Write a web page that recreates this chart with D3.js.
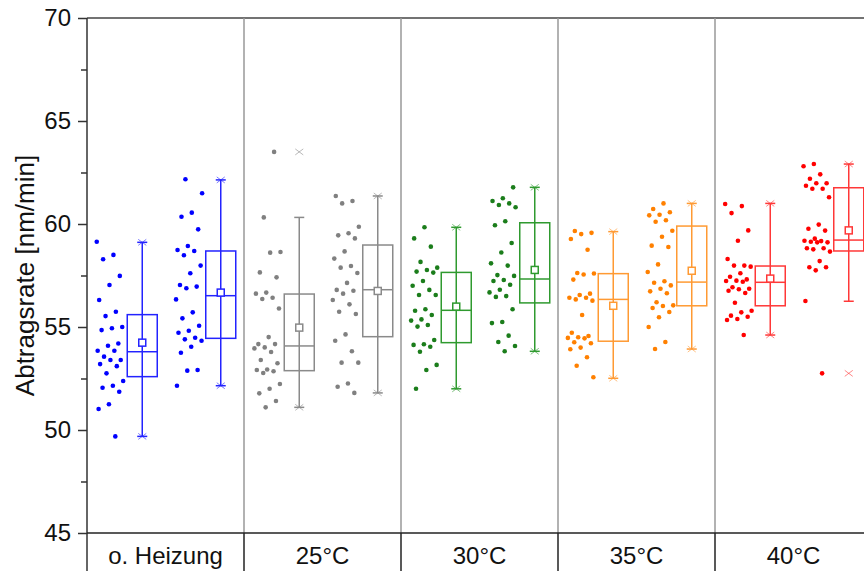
<!DOCTYPE html>
<html>
<head>
<meta charset="utf-8">
<script src="https://cdn.jsdelivr.net/npm/d3@7"></script>
<style>
  body { margin: 0; background: #fff; }
  svg { display: block; font-family: "Liberation Sans", Arial, sans-serif; }
</style>
</head>
<body>
<div id="chart"></div>
<script>
// 1. Data
const categories = ["o. Heizung", "25°C", "30°C", "35°C", "40°C"]
const subSeries = ["A", "B"]

// raw points per category, two sub series each
const ptsOHeizung = [
  [59.14, 58.50, 58.29, 57.48, 57.04, 56.31, 55.74, 55.53, 55.0, 54.94, 54.85, 54.2, 54.09, 53.85,
   53.85, 53.56, 53.4, 53.4, 53.2, 53.1, 52.75, 52.38, 52.15, 52.05, 51.86, 51.25, 51.02, 49.69],
  [62.17, 61.49, 60.55, 60.35, 59.74, 58.93, 58.74, 58.69, 58.48, 57.98, 57.61, 57.04, 56.96, 56.88,
   56.34, 55.71, 55.42, 55.06, 54.82, 54.72, 54.48, 54.4, 54.33, 54.04, 53.75, 52.91, 52.88, 52.15]
]
const pts25 = [
  [63.5, 60.32, 58.64, 58.61, 57.65, 57.41, 56.67, 56.62, 56.42, 56.36, 55.9, 54.51, 54.17, 54.17,
   54.01, 53.96, 53.79, 53.4, 53.24, 52.94, 52.91, 52.85, 52.77, 52.23, 52.0, 51.78, 51.41, 51.1],
  [61.36, 61.12, 61.0, 59.87, 59.55, 59.45, 59.3, 58.67, 58.32, 57.96, 57.88, 57.62, 57.14, 56.8,
   56.76, 56.62, 56.31, 56.1, 55.74, 55.63, 54.64, 54.33, 53.82, 53.27, 53.27, 52.26, 52.1, 51.8]
]
const pts30 = [
  [59.84, 59.3, 58.9, 58.16, 57.88, 57.77, 57.69, 57.64, 57.23, 57.0, 56.8, 56.55, 56.55, 55.86,
   55.79, 55.58, 55.37, 55.31, 55.1, 55.02, 54.37, 54.16, 54.13, 54.04, 53.8, 53.16, 52.91, 52.0],
  [61.78, 61.25, 61.12, 61.0, 60.92, 60.81, 60.13, 59.94, 59.08, 58.62, 58.09, 57.98, 57.52, 57.48,
   57.28, 57.23, 57.05, 56.81, 56.68, 56.5, 56.46, 55.86, 55.24, 55.19, 54.58, 54.27, 54.08, 53.82]
]
const pts35 = [
  [59.66, 59.57, 59.51, 59.27, 58.75, 57.62, 57.6, 57.55, 57.3, 56.62, 56.55, 56.42, 56.42, 56.34,
   56.28, 55.58, 54.72, 54.56, 54.5, 54.47, 54.45, 54.26, 54.21, 54.0, 53.92, 53.53, 53.12, 52.56],
  [61.0, 60.73, 60.57, 60.45, 60.42, 60.18, 60.11, 59.67, 59.38, 58.95, 58.88, 58.04, 57.67, 57.22,
   57.15, 57.02, 56.86, 56.73, 56.64, 56.2, 56.05, 56.02, 55.92, 55.73, 55.47, 55.0, 54.27, 53.93]
]
const pts40 = [
  [60.97, 60.87, 60.53, 59.69, 59.19, 58.3, 57.98, 57.98, 57.93, 57.61, 57.44, 57.31, 57.25, 57.23,
   57.2, 56.93, 56.86, 56.83, 56.76, 56.65, 56.18, 55.79, 55.71, 55.55, 55.5, 55.39, 55.34, 54.61],
  [62.91, 62.8, 62.41, 62.2, 61.98, 61.98, 61.86, 61.71, 61.71, 61.3, 59.97, 59.77, 59.68, 59.29,
   59.19, 59.17, 59.14, 59.11, 59.11, 58.82, 58.82, 58.77, 58.66, 58.2, 57.9, 57.9, 57.75, 56.26, 52.75]
]
const allPoints = [ptsOHeizung, pts25, pts30, pts35, pts40]

// box statistics per category [A, B]
const boxQ1 = [[52.59, 54.45], [52.88, 54.53], [54.24, 56.17], [54.31, 56.03], [56.03, 58.69]]
const boxMedian = [[53.8, 56.52], [54.08, 56.81], [55.81, 57.33], [56.34, 57.18], [57.17, 59.22]]
const boxQ3 = [[55.6, 58.69], [56.6, 58.98], [57.65, 60.06], [57.59, 59.9], [57.96, 61.76]]
const boxMean = [[54.24, 56.67], [54.97, 56.75], [55.99, 57.77], [56.03, 57.73], [57.35, 59.69]]
const whiskerLow = [[49.69, 52.15], [51.1, 51.8], [52.0, 53.82], [52.51, 53.93], [54.61, 56.25]]
const whiskerHigh = [[59.11, 62.14], [60.32, 61.36], [59.84, 61.78], [59.63, 61.0], [61.0, 62.91]]
const minMark = [[49.69, 52.15], [51.1, 51.8], [52.0, 53.82], [52.51, 53.93], [54.61, 52.75]]
const maxMark = [[59.11, 62.14], [63.5, 61.36], [59.84, 61.78], [59.63, 61.0], [61.0, 62.91]]

const yTicks = [45, 50, 55, 60, 65, 70]

// styles
const pointColors = ["#0000ff", "#808080", "#1b7d1b", "#ff8000", "#ff0000"]
const boxColors = ["#2323ff", "#8a8a8a", "#2f9a2f", "#ff9a33", "#ff3838"]

// 2. Dimensions
const dimensions = {
  width: 864,
  height: 571,
  margin: { top: 18, left: 87, bottom: 38 },
}
const groupWidth = 157
const plotBottom = dimensions.height - dimensions.margin.bottom

// 3. Canvas
const svg = d3.select("#chart").append("svg")
  .attr("width", dimensions.width)
  .attr("height", dimensions.height)

// 4. Scales
const yScale = d3.scaleLinear()
  .domain([45, 70])
  .range([plotBottom, dimensions.margin.top])

const xScale = d3.scaleBand()
  .domain(categories)
  .range([dimensions.margin.left, dimensions.margin.left + groupWidth * categories.length])

const subScale = d3.scaleBand()
  .domain(subSeries)
  .range([0, xScale.bandwidth()])

const cloudOffset = -16
const boxOffset = 16
const boxW = 30
const capW = 10

// deterministic jitter within the cloud (golden ratio sequence)
const jitter = (i, seed) => {
  const f = (i * 0.618034 + seed * 0.377) % 1
  return (f - 0.5) * 27
}

// 5. Peripherals (frame, separators)
svg.append("line")
  .attr("x1", dimensions.margin.left).attr("x2", dimensions.width)
  .attr("y1", yScale(70)).attr("y2", yScale(70))
  .attr("stroke", "#444").attr("stroke-width", 1.5)

categories.slice(1).forEach(c => {
  const x = xScale(c)
  svg.append("line")
    .attr("x1", x).attr("x2", x)
    .attr("y1", yScale(70)).attr("y2", plotBottom)
    .attr("stroke", "#999").attr("stroke-width", 1.5)
  svg.append("line")
    .attr("x1", x).attr("x2", x)
    .attr("y1", plotBottom).attr("y2", dimensions.height)
    .attr("stroke", "#222").attr("stroke-width", 1.5)
})

// 6. Draw data
categories.forEach((cat, ci) => {
  const g = svg.append("g")
  const pc = pointColors[ci]
  const bc = boxColors[ci]
  subSeries.forEach((s, si) => {
    const center = xScale(cat) + subScale(s) + subScale.bandwidth() / 2
    const cx = center + cloudOffset
    const bx = center + boxOffset

    // points
    g.selectAll(null)
      .data(allPoints[ci][si])
      .enter().append("circle")
        .attr("cx", (d, i) => cx + jitter(i, ci * 2 + si))
        .attr("cy", d => yScale(d))
        .attr("r", 2.3)
        .attr("fill", pc)

    // whisker
    g.append("line")
      .attr("x1", bx).attr("x2", bx)
      .attr("y1", yScale(whiskerLow[ci][si])).attr("y2", yScale(whiskerHigh[ci][si]))
      .attr("stroke", bc).attr("stroke-width", 1.5)
    ;[whiskerLow[ci][si], whiskerHigh[ci][si]].forEach(v => {
      g.append("line")
        .attr("x1", bx - capW / 2).attr("x2", bx + capW / 2)
        .attr("y1", yScale(v)).attr("y2", yScale(v))
        .attr("stroke", bc).attr("stroke-width", 1.5)
    })

    // box
    g.append("rect")
      .attr("x", bx - boxW / 2)
      .attr("y", yScale(boxQ3[ci][si]))
      .attr("width", boxW)
      .attr("height", yScale(boxQ1[ci][si]) - yScale(boxQ3[ci][si]))
      .attr("fill", "none").attr("stroke", bc).attr("stroke-width", 1.5)
    g.append("line")
      .attr("x1", bx - boxW / 2).attr("x2", bx + boxW / 2)
      .attr("y1", yScale(boxMedian[ci][si])).attr("y2", yScale(boxMedian[ci][si]))
      .attr("stroke", bc).attr("stroke-width", 1.5)

    // mean
    g.append("rect")
      .attr("x", bx - 3.5).attr("y", yScale(boxMean[ci][si]) - 3.5)
      .attr("width", 7).attr("height", 7)
      .attr("fill", "#fff").attr("stroke", bc).attr("stroke-width", 1.5)

    // min / max markers
    ;[minMark[ci][si], maxMark[ci][si]].forEach(v => {
      g.append("path")
        .attr("d", "M-4,-3L4,3M-4,3L4,-3")
        .attr("transform", `translate(${bx},${yScale(v)})`)
        .attr("stroke", bc).attr("stroke-width", 1).attr("opacity", 0.6)
        .attr("fill", "none")
    })
  })
})

// 7. Axes
const yAxisGenerator = d3.axisLeft(yScale)
  .tickValues(yTicks)
  .tickSize(9)
  .tickPadding(7)
  .tickSizeOuter(0)

const yAxis = svg.append("g")
  .attr("transform", `translate(${dimensions.margin.left},0)`)
  .call(yAxisGenerator)
yAxis.select(".domain").remove()
yAxis.selectAll("line").attr("stroke", "#333").attr("stroke-width", 1.5)
yAxis.selectAll("text")
  .style("font-size", "24px")
  .attr("fill", "#111")

const yMinor = svg.append("g")
  .attr("transform", `translate(${dimensions.margin.left},0)`)
  .call(d3.axisLeft(yScale).tickValues(d3.range(47.5, 70, 5)).tickSize(6).tickFormat(""))
yMinor.select(".domain").remove()
yMinor.selectAll("line").attr("stroke", "#333").attr("stroke-width", 1.5)

// left axis line (runs down through the label row)
svg.append("line")
  .attr("x1", dimensions.margin.left).attr("x2", dimensions.margin.left)
  .attr("y1", yScale(70)).attr("y2", dimensions.height)
  .attr("stroke", "#333").attr("stroke-width", 1.5)

// bottom axis line + category labels
svg.append("line")
  .attr("x1", dimensions.margin.left).attr("x2", dimensions.width)
  .attr("y1", plotBottom).attr("y2", plotBottom)
  .attr("stroke", "#222").attr("stroke-width", 1.5)

svg.append("g").selectAll("text")
  .data(categories)
  .enter().append("text")
    .attr("x", d => xScale(d) + xScale.bandwidth() / 2)
    .attr("y", 564)
    .attr("text-anchor", "middle")
    .style("font-size", "24px")
    .attr("fill", "#111")
    .text(d => d)

// y axis title
svg.append("text")
  .attr("transform", `translate(34,${(yScale(70) + plotBottom) / 2}) rotate(-90)`)
  .attr("text-anchor", "middle")
  .style("font-size", "26px")
  .attr("fill", "#111")
  .text("Abtragsrate [nm/min]")
</script>
</body>
</html>
